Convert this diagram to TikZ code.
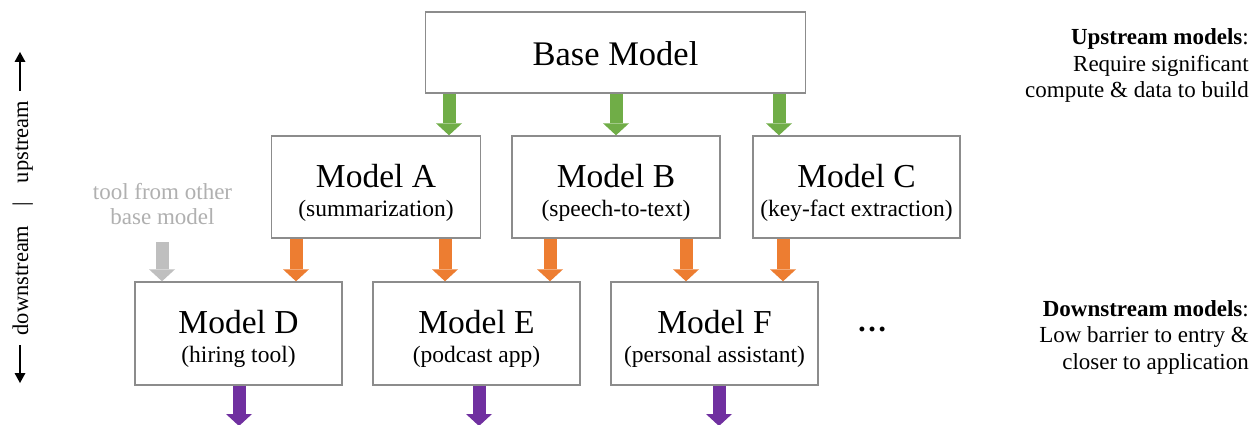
\documentclass[tikz,border=0pt]{standalone}
\usepackage{fontspec}
\setmainfont{Liberation Serif}
\usetikzlibrary{arrows.meta}
\definecolor{cgreen}{HTML}{70AD47}
\definecolor{corange}{HTML}{ED7D31}
\definecolor{cpurple}{HTML}{7030A0}
\definecolor{cgray}{HTML}{BFBFBF}
\definecolor{cborder}{HTML}{8C8C8C}
\definecolor{ctext}{HTML}{B0B0B0}
\begin{document}
\begin{tikzpicture}[x=1pt,y=-1pt,
  box/.style={draw=cborder,line width=1.4pt,fill=white,inner sep=0pt},
  title/.style={anchor=base,font=\fontsize{33.5}{40}\selectfont,inner sep=0pt},
  sub/.style={anchor=base,font=\fontsize{23.5}{27}\selectfont,inner sep=0pt},
  side/.style={anchor=base east,font=\fontsize{23}{27}\selectfont,inner sep=0pt},
  blk/.style={line width=13pt,-{Triangle[length=12pt,width=26pt,line width=0pt]}},
  axarrow/.style={line width=1.3pt,-{Triangle[length=10pt,width=11pt,line width=0pt]}}]
\useasboundingbox (0,0) rectangle (1253,425);
\fill[white] (0,0) rectangle (1253,425);

% boxes
\node[box,minimum width=380pt,minimum height=81pt] (base) at (615.5,52.5) {};
\node[title,font=\fontsize{34.5}{40}\selectfont] (baset) at ([yshift=-13.5pt]base.center) {Base Model};

\node[box,minimum width=209pt,minimum height=102pt] (A) at (376,187) {};
\node[box,minimum width=208pt,minimum height=102pt] (B) at (616,187) {};
\node[box,minimum width=207pt,minimum height=102pt] (C) at (856.5,187) {};
\node[box,minimum width=207pt,minimum height=103pt] (D) at (238.5,333.5) {};
\node[box,minimum width=207pt,minimum height=103pt] (E) at (476.5,333.5) {};
\node[box,minimum width=207pt,minimum height=103pt] (F) at (714.5,333.5) {};

\node[title] (At) at (A.center) {Model A};
\node[sub] (As) at ([yshift=-29pt]A.center) {(summarization)};
\node[title] (Bt) at (B.center) {Model B};
\node[sub] (Bs) at ([yshift=-29pt]B.center) {(speech-to-text)};
\node[title] (Ct) at (C.center) {Model C};
\node[sub] (Cs) at ([yshift=-29pt]C.center) {(key-fact extraction)};
\node[title] (Dt) at (D.center) {Model D};
\node[sub] (Ds) at ([yshift=-29pt]D.center) {(hiring tool)};
\node[title] (Et) at (E.center) {Model E};
\node[sub] (Es) at ([yshift=-29pt]E.center) {(podcast app)};
\node[title] (Ft) at (F.center) {Model F};
\node[sub] (Fs) at ([yshift=-29pt]F.center) {(personal assistant)};

\node[anchor=base,font=\fontsize{30}{30}\selectfont\bfseries,inner sep=0pt] (dots) at (872,331) {…};

% gray text
\node[sub,text=ctext,font=\fontsize{23}{27}\selectfont] (tool1) at (162.5,199) {tool from other};
\node[sub,text=ctext,font=\fontsize{23}{27}\selectfont] (tool2) at (162.5,224) {base model};

% arrow x positions
\coordinate (g1) at (449,0);
\coordinate (g2) at (616,0);
\coordinate (g3) at (779,0);
\coordinate (o1) at (296,0);
\coordinate (o2) at (445,0);
\coordinate (o3) at (550,0);
\coordinate (o4) at (686,0);
\coordinate (o5) at (783,0);
\coordinate (gs) at (162,242);
\coordinate (p1) at (239,426);
\coordinate (p2) at (479,426);
\coordinate (p3) at (719,426);

\draw[blk,cgreen] (g1 |- base.south) -- (g1 |- A.north);
\draw[blk,cgreen] (g2 |- base.south) -- (g2 |- B.north);
\draw[blk,cgreen] (g3 |- base.south) -- (g3 |- C.north);

\draw[blk,corange] (o1 |- A.south) -- (o1 |- D.north);
\draw[blk,corange] (o2 |- A.south) -- (o2 |- E.north);
\draw[blk,corange] (o3 |- B.south) -- (o3 |- E.north);
\draw[blk,corange] (o4 |- B.south) -- (o4 |- F.north);
\draw[blk,corange] (o5 |- C.south) -- (o5 |- F.north);

\draw[blk,cgray] (gs) -- (gs |- D.north);

\draw[blk,cpurple] (p1 |- D.south) -- (p1);
\draw[blk,cpurple] (p2 |- E.south) -- (p2);
\draw[blk,cpurple] (p3 |- F.south) -- (p3);

% axis
\node[anchor=base,rotate=90,font=\fontsize{22.5}{26}\selectfont,inner sep=0pt] (axis) at (28,218) {downstream\hspace{19pt}|\hspace{19pt}upstream};
\coordinate (ua) at (20,91);
\coordinate (ub) at (20,52);
\coordinate (da) at (20,345);
\coordinate (db) at (20,383);
\draw[axarrow] (ua) -- (ub);
\draw[axarrow] (da) -- (db);

% side notes
\node[side] (u1) at (1249,45) {\textbf{Upstream models}:};
\node[side] (u2) at (1249,71.5) {Require significant};
\node[side] (u3) at (1249,98) {compute \& data to build};
\node[side] (d1) at (1249,316) {\textbf{Downstream models}:};
\node[side] (d2) at (1249,342.5) {Low barrier to entry \&};
\node[side] (d3) at (1249,369) {closer to application};
\end{tikzpicture}
\end{document}
